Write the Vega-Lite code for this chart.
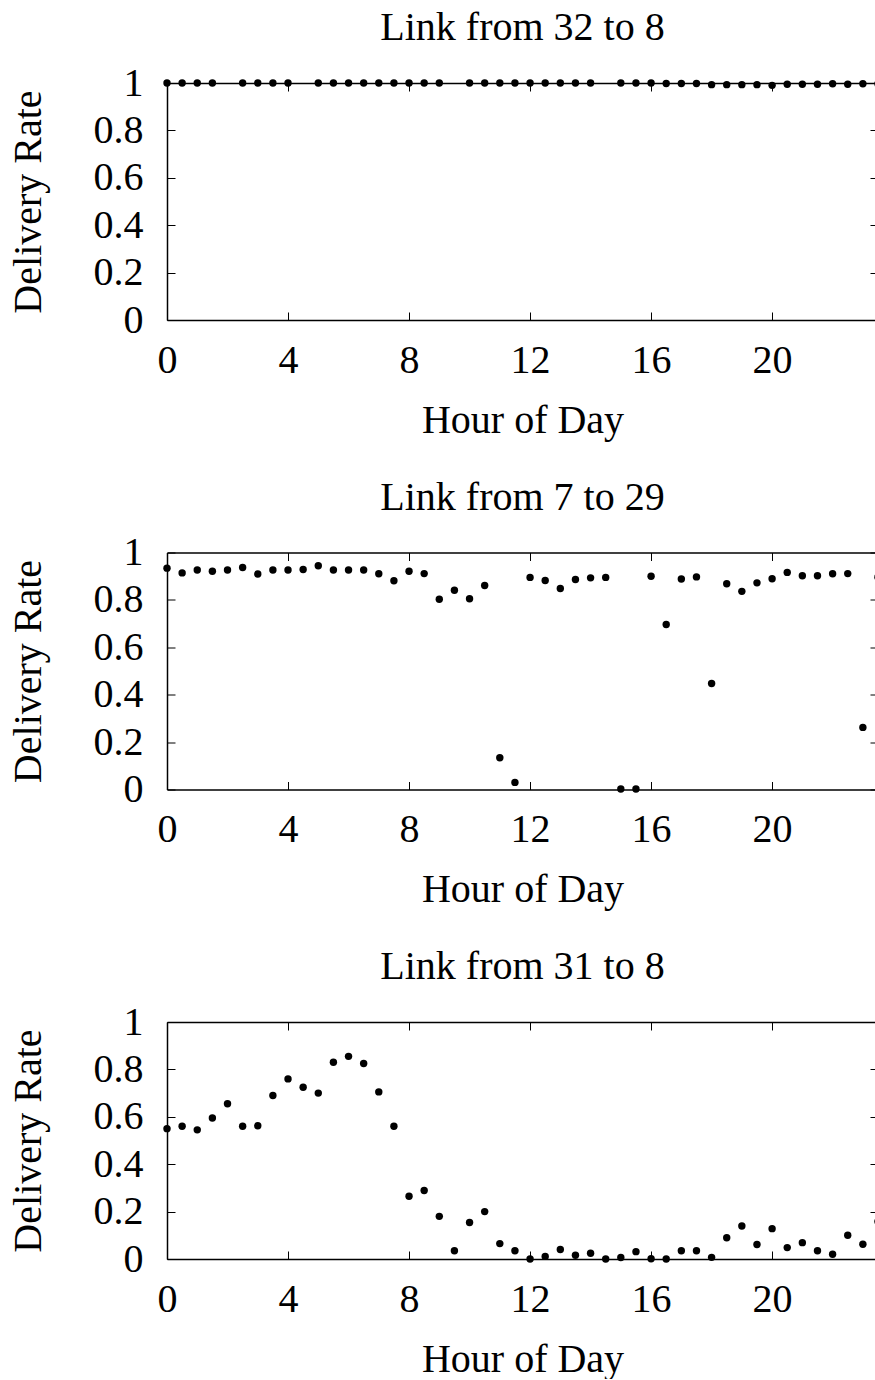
{
  "$schema": "https://vega.github.io/schema/vega-lite/v6.json",
  "background": "white",
  "padding": {"left": 8, "top": 8, "right": 0, "bottom": 0},
  "spacing": 37.5,
  "config": {
    "font": "Liberation Serif",
    "view": {"stroke": null},
    "title": {"font": "Liberation Serif", "fontSize": 40, "fontWeight": "normal", "color": "#000", "offset": 15, "anchor": "middle"},
    "axis": {
      "labelFont": "Liberation Serif", "titleFont": "Liberation Serif",
      "labelFontSize": 40, "titleFontSize": 40, "titleFontWeight": "normal",
      "labelColor": "#000", "titleColor": "#000", "domainColor": "#000", "tickColor": "#000",
      "domainWidth": 1.5, "tickWidth": 1, "tickSize": -8, "grid": false, "labelFlush": false
    },
    "axisX": {"labelPadding": 28, "titlePadding": 20},
    "axisY": {"labelPadding": 32, "titlePadding": 45}
  },
  "datasets": {
    "l1": [
      {"h": 0, "r": 1}, {"h": 0.5, "r": 1}, {"h": 1, "r": 1}, {"h": 1.5, "r": 1},
      {"h": 2.5, "r": 1}, {"h": 3, "r": 1}, {"h": 3.5, "r": 1}, {"h": 4, "r": 1},
      {"h": 5, "r": 1}, {"h": 5.5, "r": 1}, {"h": 6, "r": 1}, {"h": 6.5, "r": 1}, {"h": 7, "r": 1}, {"h": 7.5, "r": 1}, {"h": 8, "r": 1}, {"h": 8.5, "r": 1}, {"h": 9, "r": 1},
      {"h": 10, "r": 1}, {"h": 10.5, "r": 1}, {"h": 11, "r": 1}, {"h": 11.5, "r": 1}, {"h": 12, "r": 1}, {"h": 12.5, "r": 1}, {"h": 13, "r": 1}, {"h": 13.5, "r": 1}, {"h": 14, "r": 1},
      {"h": 15, "r": 1}, {"h": 15.5, "r": 1}, {"h": 16, "r": 1}, {"h": 16.5, "r": 0.998}, {"h": 17, "r": 0.998}, {"h": 17.5, "r": 0.998},
      {"h": 18, "r": 0.993}, {"h": 18.5, "r": 0.993}, {"h": 19, "r": 0.993}, {"h": 19.5, "r": 0.993}, {"h": 20, "r": 0.99}, {"h": 20.5, "r": 0.995},
      {"h": 21, "r": 0.995}, {"h": 21.5, "r": 0.995}, {"h": 22, "r": 0.997}, {"h": 22.5, "r": 0.995}, {"h": 23, "r": 0.997}, {"h": 23.5, "r": 0.997}
    ],
    "l2": [
      {"h": 0, "r": 0.934}, {"h": 0.5, "r": 0.914}, {"h": 1, "r": 0.926}, {"h": 1.5, "r": 0.921}, {"h": 2, "r": 0.926}, {"h": 2.5, "r": 0.937},
      {"h": 3, "r": 0.909}, {"h": 3.5, "r": 0.926}, {"h": 4, "r": 0.926}, {"h": 4.5, "r": 0.928}, {"h": 5, "r": 0.944}, {"h": 5.5, "r": 0.926},
      {"h": 6, "r": 0.926}, {"h": 6.5, "r": 0.926}, {"h": 7, "r": 0.91}, {"h": 7.5, "r": 0.881}, {"h": 8, "r": 0.921}, {"h": 8.5, "r": 0.911},
      {"h": 9, "r": 0.803}, {"h": 9.5, "r": 0.841}, {"h": 10, "r": 0.805}, {"h": 10.5, "r": 0.861}, {"h": 11, "r": 0.134}, {"h": 11.5, "r": 0.03},
      {"h": 12, "r": 0.895}, {"h": 12.5, "r": 0.882}, {"h": 13, "r": 0.848}, {"h": 13.5, "r": 0.886}, {"h": 14, "r": 0.893}, {"h": 14.5, "r": 0.895},
      {"h": 15, "r": 0.002}, {"h": 15.5, "r": 0.002}, {"h": 16, "r": 0.9}, {"h": 16.5, "r": 0.696}, {"h": 17, "r": 0.888}, {"h": 17.5, "r": 0.897},
      {"h": 18, "r": 0.447}, {"h": 18.5, "r": 0.868}, {"h": 19, "r": 0.836}, {"h": 19.5, "r": 0.872}, {"h": 20, "r": 0.889}, {"h": 20.5, "r": 0.916},
      {"h": 21, "r": 0.902}, {"h": 21.5, "r": 0.902}, {"h": 22, "r": 0.91}, {"h": 22.5, "r": 0.911}, {"h": 23, "r": 0.262}, {"h": 23.5, "r": 0.896}
    ],
    "l3": [
      {"h": 0, "r": 0.55}, {"h": 0.5, "r": 0.56}, {"h": 1, "r": 0.545}, {"h": 1.5, "r": 0.595}, {"h": 2, "r": 0.655}, {"h": 2.5, "r": 0.56},
      {"h": 3, "r": 0.562}, {"h": 3.5, "r": 0.69}, {"h": 4, "r": 0.76}, {"h": 4.5, "r": 0.725}, {"h": 5, "r": 0.7}, {"h": 5.5, "r": 0.83},
      {"h": 6, "r": 0.855}, {"h": 6.5, "r": 0.825}, {"h": 7, "r": 0.705}, {"h": 7.5, "r": 0.56}, {"h": 8, "r": 0.265}, {"h": 8.5, "r": 0.289},
      {"h": 9, "r": 0.18}, {"h": 9.5, "r": 0.035}, {"h": 10, "r": 0.154}, {"h": 10.5, "r": 0.2}, {"h": 11, "r": 0.065}, {"h": 11.5, "r": 0.035},
      {"h": 12, "r": 0.0}, {"h": 12.5, "r": 0.011}, {"h": 13, "r": 0.04}, {"h": 13.5, "r": 0.016}, {"h": 14, "r": 0.024}, {"h": 14.5, "r": 0.0},
      {"h": 15, "r": 0.006}, {"h": 15.5, "r": 0.031}, {"h": 16, "r": 0.001}, {"h": 16.5, "r": 0.0}, {"h": 17, "r": 0.035}, {"h": 17.5, "r": 0.035},
      {"h": 18, "r": 0.007}, {"h": 18.5, "r": 0.09}, {"h": 19, "r": 0.139}, {"h": 19.5, "r": 0.061}, {"h": 20, "r": 0.128}, {"h": 20.5, "r": 0.048},
      {"h": 21, "r": 0.069}, {"h": 21.5, "r": 0.035}, {"h": 22, "r": 0.02}, {"h": 22.5, "r": 0.1}, {"h": 23, "r": 0.062}, {"h": 23.5, "r": 0.158}
    ]
  },
  "vconcat": [
    {
      "title": "Link from 32 to 8",
      "width": 711, "height": 237,
      "data": {"name": "l1"},
      "layer": [
        {"mark": {"type": "point", "filled": true, "color": "#000", "opacity": 1, "size": 55},
         "encoding": {
           "x": {"field": "h", "type": "quantitative", "scale": {"domain": [0, 23.5], "nice": false, "zero": false}, "axis": {"orient": "bottom", "title": "Hour of Day", "values": [0, 4, 8, 12, 16, 20]}},
           "y": {"field": "r", "type": "quantitative", "scale": {"domain": [0, 1], "nice": false}, "axis": {"orient": "left", "title": "Delivery Rate", "values": [0, 0.2, 0.4, 0.6, 0.8, 1], "format": "~g"}}
         }},
        {"mark": {"type": "point", "filled": true, "opacity": 0},
         "encoding": {
           "x": {"field": "h", "type": "quantitative", "axis": {"orient": "top", "title": null, "labels": false, "values": [0, 4, 8, 12, 16, 20]}},
           "y": {"field": "r", "type": "quantitative", "axis": {"orient": "right", "title": null, "labels": false, "values": [0, 0.2, 0.4, 0.6, 0.8, 1]}}
         }}
      ],
      "resolve": {"axis": {"x": "independent", "y": "independent"}}
    },
    {
      "title": "Link from 7 to 29",
      "width": 711, "height": 237,
      "data": {"name": "l2"},
      "layer": [
        {"mark": {"type": "point", "filled": true, "color": "#000", "opacity": 1, "size": 55},
         "encoding": {
           "x": {"field": "h", "type": "quantitative", "scale": {"domain": [0, 23.5], "nice": false, "zero": false}, "axis": {"orient": "bottom", "title": "Hour of Day", "values": [0, 4, 8, 12, 16, 20]}},
           "y": {"field": "r", "type": "quantitative", "scale": {"domain": [0, 1], "nice": false}, "axis": {"orient": "left", "title": "Delivery Rate", "values": [0, 0.2, 0.4, 0.6, 0.8, 1], "format": "~g"}}
         }},
        {"mark": {"type": "point", "filled": true, "opacity": 0},
         "encoding": {
           "x": {"field": "h", "type": "quantitative", "axis": {"orient": "top", "title": null, "labels": false, "values": [0, 4, 8, 12, 16, 20]}},
           "y": {"field": "r", "type": "quantitative", "axis": {"orient": "right", "title": null, "labels": false, "values": [0, 0.2, 0.4, 0.6, 0.8, 1]}}
         }}
      ],
      "resolve": {"axis": {"x": "independent", "y": "independent"}}
    },
    {
      "title": "Link from 31 to 8",
      "width": 711, "height": 237,
      "data": {"name": "l3"},
      "layer": [
        {"mark": {"type": "point", "filled": true, "color": "#000", "opacity": 1, "size": 55},
         "encoding": {
           "x": {"field": "h", "type": "quantitative", "scale": {"domain": [0, 23.5], "nice": false, "zero": false}, "axis": {"orient": "bottom", "title": "Hour of Day", "values": [0, 4, 8, 12, 16, 20]}},
           "y": {"field": "r", "type": "quantitative", "scale": {"domain": [0, 1], "nice": false}, "axis": {"orient": "left", "title": "Delivery Rate", "values": [0, 0.2, 0.4, 0.6, 0.8, 1], "format": "~g"}}
         }},
        {"mark": {"type": "point", "filled": true, "opacity": 0},
         "encoding": {
           "x": {"field": "h", "type": "quantitative", "axis": {"orient": "top", "title": null, "labels": false, "values": [0, 4, 8, 12, 16, 20]}},
           "y": {"field": "r", "type": "quantitative", "axis": {"orient": "right", "title": null, "labels": false, "values": [0, 0.2, 0.4, 0.6, 0.8, 1]}}
         }}
      ],
      "resolve": {"axis": {"x": "independent", "y": "independent"}}
    }
  ]
}
